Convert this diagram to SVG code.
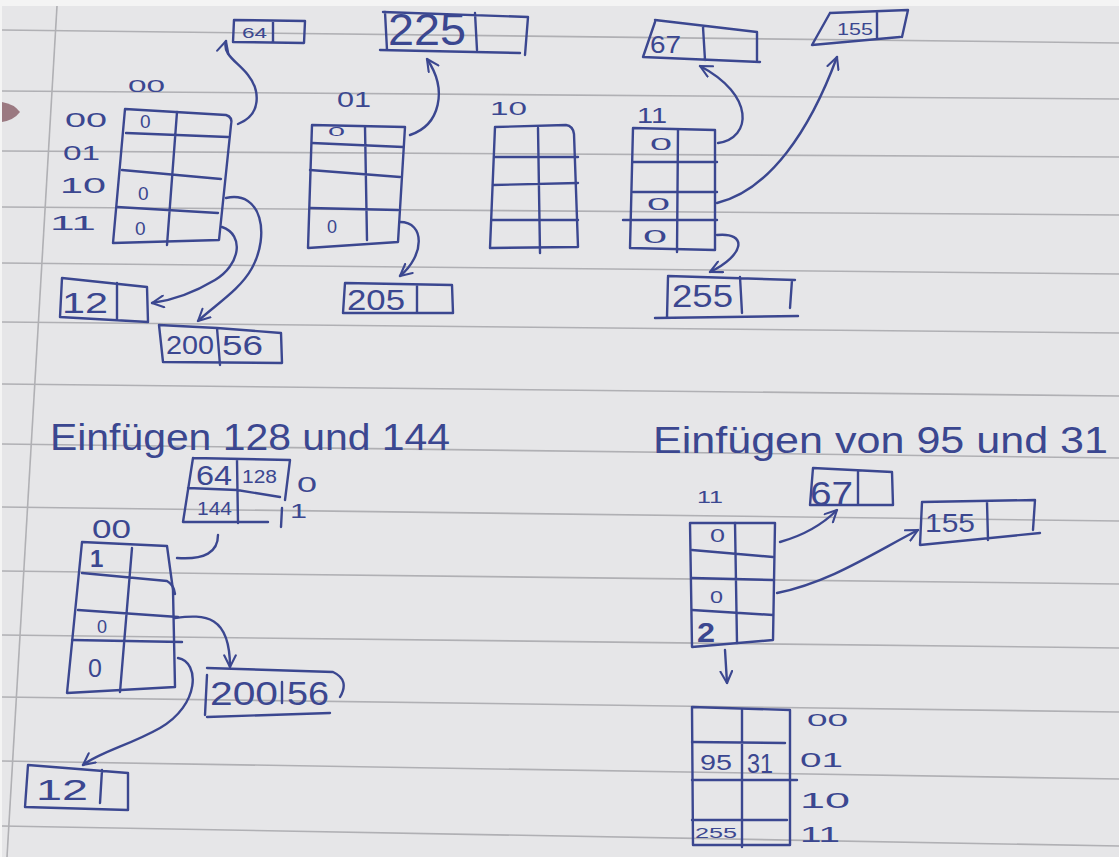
<svg xmlns="http://www.w3.org/2000/svg" width="1119" height="857" viewBox="0 0 1119 857">
<style>
.ink{fill:none;stroke:#3b4790;stroke-width:2.4;stroke-linecap:round;stroke-linejoin:round}
.rule{fill:none;stroke:#b0b0b4;stroke-width:1.6}
.hw{font-family:"Liberation Sans","DejaVu Sans",sans-serif;fill:#3b4790}
.b{font-weight:bold}
</style>
<defs>
<marker id="arr" viewBox="0 0 12 12" refX="11" refY="6" markerWidth="14" markerHeight="14" markerUnits="userSpaceOnUse" orient="auto">
<path d="M1,1 L11,6 L1,11" fill="none" stroke="#3b4790" stroke-width="1.8" stroke-linecap="round" stroke-linejoin="round"/>
</marker>
</defs>
<rect x="0" y="0" width="1119" height="857" fill="#f4f4f4"/>
<g id="paper">
<rect x="2" y="6" width="1117" height="851" fill="#e6e6e8"/>
<path d="M2,102 Q14,104 20,112 Q14,120 2,122 Z" fill="#7a4a55" opacity="0.7"/>
<path class="rule" d="M2,30 L1119,43 M2,91 L1119,99 M2,151 L1119,157 M2,207 L1119,215 M2,263 L1119,274 M2,322 L1119,333 M2,384 L1119,396 M2,444 L1119,458 M2,507 L1119,521 M2,571 L1119,584 M2,635 L1119,648 M2,697 L1119,712 M2,761 L1119,779 M2,826 L1119,846"/>
<path class="rule" d="M57,6 L7,857"/>
</g>

<g id="bucket00">
<text class="hw" x="128" y="92" font-size="17" textLength="37" lengthAdjust="spacingAndGlyphs">00</text>
<text class="hw" x="65" y="127" font-size="20" textLength="42" lengthAdjust="spacingAndGlyphs">00</text>
<text class="hw" x="63" y="160" font-size="20" textLength="37" lengthAdjust="spacingAndGlyphs">01</text>
<text class="hw" x="60" y="193" font-size="22" textLength="46" lengthAdjust="spacingAndGlyphs">10</text>
<text class="hw" x="50" y="230" font-size="20" textLength="46" lengthAdjust="spacingAndGlyphs">11</text>
<path class="ink" d="M125,109 L226,115 Q233,117 231,125 L219,240 L113,243 Z"/>
<path class="ink" d="M177,112 L167,245 M126,133 L228,137 M122,170 L221,179 M117,207 L218,213"/>
<text class="hw" x="140" y="128" font-size="19">0</text>
<text class="hw" x="138" y="200" font-size="19">0</text>
<text class="hw" x="135" y="235" font-size="19">0</text>
</g>

<g id="box64">
<path class="ink" d="M234,20 L305,21 L304,43 L233,42 Z M273,21 L273,42"/>
<text class="hw" x="242" y="38" font-size="15" textLength="25" lengthAdjust="spacingAndGlyphs">64</text>
</g>

<g id="box12top">
<path class="ink" d="M62,278 L147,287 L148,322 L60,317 Z M117,283 L117,320"/>
<text class="hw" x="62" y="313" font-size="30" textLength="46" lengthAdjust="spacingAndGlyphs">12</text>
</g>

<g id="box200_56top">
<path class="ink" d="M159,325 L217,328 L281,333 L282,363 L163,362 Z M217,328 L220,365"/>
<text class="hw" x="166" y="354" font-size="26" textLength="48" lengthAdjust="spacingAndGlyphs">200</text>
<text class="hw" x="222" y="355" font-size="28" textLength="41" lengthAdjust="spacingAndGlyphs">56</text>
</g>

<g id="bucket01">
<text class="hw" x="337" y="107" font-size="22" textLength="34" lengthAdjust="spacingAndGlyphs">01</text>
<path class="ink" d="M312,125 L405,127 L398,242 L308,248 Z"/>
<path class="ink" d="M365,127 L367,240 M312,143 L403,147 M310,170 L400,177 M310,208 L398,210"/>
<text class="hw" x="328" y="136" font-size="13" textLength="17" lengthAdjust="spacingAndGlyphs">0</text>
<text class="hw" x="327" y="233" font-size="18">0</text>
</g>

<g id="box225">
<path class="ink" d="M383,12 L528,17 L525,55 M385,12 L387,50 M380,50 L520,53 M475,13 L477,50"/>
<text class="hw" x="388" y="45" font-size="44" textLength="78" lengthAdjust="spacingAndGlyphs">225</text>
</g>

<g id="box205">
<path class="ink" d="M345,283 L452,285 L453,313 L343,313 Z M417,285 L417,312"/>
<text class="hw" x="347" y="310" font-size="30" textLength="58" lengthAdjust="spacingAndGlyphs">205</text>
</g>

<g id="bucket10">
<text class="hw" x="490" y="115" font-size="18" textLength="37" lengthAdjust="spacingAndGlyphs">10</text>
<path class="ink" d="M495,127 L566,125 Q573,126 574,134 L578,247 L490,248 Z"/>
<path class="ink" d="M538,128 L540,253 M495,157 L578,157 M493,185 L578,183 M492,220 L578,220"/>
</g>

<g id="bucket11">
<text class="hw" x="637" y="123" font-size="22" textLength="30" lengthAdjust="spacingAndGlyphs">11</text>
<path class="ink" d="M633,128 L715,130 L715,250 L630,248 Z"/>
<path class="ink" d="M678,130 L677,252 M633,162 L717,162 M633,192 L717,192 M623,220 L717,220"/>
<text class="hw" x="650" y="150" font-size="17" textLength="22" lengthAdjust="spacingAndGlyphs">0</text>
<text class="hw" x="647" y="210" font-size="17" textLength="23" lengthAdjust="spacingAndGlyphs">0</text>
<text class="hw" x="643" y="243" font-size="19" textLength="24" lengthAdjust="spacingAndGlyphs">0</text>
</g>

<g id="box67top">
<path class="ink" d="M655,20 L757,32 L757,60 M655,22 L643,57 L760,62 M703,27 L705,60"/>
<text class="hw" x="650" y="53" font-size="24" textLength="31" lengthAdjust="spacingAndGlyphs">67</text>
</g>

<g id="box155top">
<path class="ink" d="M830,13 L908,10 L902,37 M830,13 L812,45 L900,37 M877,12 L877,38"/>
<text class="hw" x="837" y="35" font-size="17" textLength="36" lengthAdjust="spacingAndGlyphs">155</text>
</g>

<g id="box255">
<path class="ink" d="M668,277 L667,317 M668,276 L795,280 M655,318 L798,316 M740,277 L742,313 M792,280 L790,308"/>
<text class="hw" x="672" y="307" font-size="32" textLength="61" lengthAdjust="spacingAndGlyphs">255</text>
</g>

<g id="title1">
<text class="hw" x="50" y="450" font-size="36" textLength="400" lengthAdjust="spacingAndGlyphs">Einfügen 128 und 144</text>
</g>

<g id="overflow00">
<path class="ink" d="M193,458 L290,460 L285,500 M193,458 L183,522 L268,522 M282,508 L281,527 M237,460 L238,523 M188,488 L237,490 L280,497"/>
<text class="hw" x="196" y="485" font-size="27" textLength="36" lengthAdjust="spacingAndGlyphs">64</text>
<text class="hw" x="242" y="483" font-size="18" textLength="35" lengthAdjust="spacingAndGlyphs">128</text>
<text class="hw" x="197" y="515" font-size="18" textLength="35" lengthAdjust="spacingAndGlyphs">144</text>
<text class="hw" x="297" y="492" font-size="22" textLength="20" lengthAdjust="spacingAndGlyphs">0</text>
<text class="hw" x="290" y="518" font-size="20" textLength="17" lengthAdjust="spacingAndGlyphs">1</text>
</g>

<g id="bucket00new">
<text class="hw" x="92" y="538" font-size="26" textLength="39" lengthAdjust="spacingAndGlyphs">00</text>
<path class="ink" d="M82,542 L167,546 L173,590 L175,687 L67,693 Z"/>
<path class="ink" d="M132,548 L120,692 M82,573 L167,581 Q174,585 175,594 M78,610 L178,617 M72,640 L182,642"/>
<text class="hw b" x="90" y="567" font-size="24">1</text>
<text class="hw" x="97" y="633" font-size="18">0</text>
<text class="hw" x="88" y="677" font-size="25">0</text>
</g>

<g id="box200_56bottom">
<path class="ink" d="M207,668 L333,672 Q350,680 340,697 M207,675 L205,715 M207,717 L330,713 M282,682 L282,703"/>
<text class="hw" x="210" y="705" font-size="33" textLength="68" lengthAdjust="spacingAndGlyphs">200</text>
<text class="hw" x="287" y="705" font-size="33" textLength="42" lengthAdjust="spacingAndGlyphs">56</text>
</g>

<g id="box12bottom">
<path class="ink" d="M28,765 L128,773 L128,810 L25,807 Z M102,770 L100,803"/>
<text class="hw" x="36" y="800" font-size="30" textLength="52" lengthAdjust="spacingAndGlyphs">12</text>
</g>

<g id="title2">
<text class="hw" x="653" y="453" font-size="36" textLength="455" lengthAdjust="spacingAndGlyphs">Einfügen von 95 und 31</text>
</g>

<g id="bucket11b">
<text class="hw" x="697" y="503" font-size="16" textLength="26" lengthAdjust="spacingAndGlyphs">11</text>
<path class="ink" d="M690,523 L775,523 L773,640 L692,647 Z"/>
<path class="ink" d="M735,523 L737,643 M692,550 L773,557 M692,578 L773,580 M692,610 L773,615"/>
<text class="hw" x="710" y="542" font-size="18" textLength="15" lengthAdjust="spacingAndGlyphs">0</text>
<text class="hw" x="710" y="603" font-size="17" textLength="13" lengthAdjust="spacingAndGlyphs">0</text>
<text class="hw b" x="697" y="642" font-size="28" textLength="18" lengthAdjust="spacingAndGlyphs">2</text>
</g>

<g id="box67b">
<path class="ink" d="M813,468 L892,472 L893,505 L810,505 Z M858,472 L858,505"/>
<text class="hw" x="810" y="505" font-size="34" textLength="43" lengthAdjust="spacingAndGlyphs">67</text>
</g>

<g id="box155b">
<path class="ink" d="M922,502 L1035,500 L1033,530 M922,502 L920,545 L1040,533 M987,502 L988,540"/>
<text class="hw" x="925" y="532" font-size="26" textLength="50" lengthAdjust="spacingAndGlyphs">155</text>
</g>

<g id="bucketsplit">
<path class="ink" d="M692,707 L790,710 L790,845 L693,845 Z"/>
<path class="ink" d="M742,710 L742,847 M692,742 L785,743 M692,780 L797,780 M692,820 L787,820"/>
<text class="hw" x="700" y="770" font-size="22" textLength="32" lengthAdjust="spacingAndGlyphs">95</text>
<text class="hw" x="747" y="773" font-size="28" textLength="26" lengthAdjust="spacingAndGlyphs">31</text>
<text class="hw" x="695" y="838" font-size="15" textLength="42" lengthAdjust="spacingAndGlyphs">255</text>
<text class="hw" x="807" y="726" font-size="17" textLength="41" lengthAdjust="spacingAndGlyphs">00</text>
<text class="hw" x="800" y="767" font-size="20" textLength="43" lengthAdjust="spacingAndGlyphs">01</text>
<text class="hw" x="800" y="808" font-size="22" textLength="50" lengthAdjust="spacingAndGlyphs">10</text>
<text class="hw" x="800" y="842" font-size="22" textLength="40" lengthAdjust="spacingAndGlyphs">11</text>
</g>

<g id="connectors">
<path class="ink" marker-end="url(#arr)" d="M238,124 C262,115 260,90 248,75 C238,62 222,55 226,41"/>
<path class="ink" marker-end="url(#arr)" d="M226,198 C262,190 270,235 252,268 C240,290 215,305 198,321"/>
<path class="ink" marker-end="url(#arr)" d="M222,227 C245,235 240,265 215,280 C195,292 175,300 152,303"/>
<path class="ink" marker-end="url(#arr)" d="M410,135 C440,125 448,90 427,59"/>
<path class="ink" marker-end="url(#arr)" d="M400,222 C425,222 425,255 400,276"/>
<path class="ink" marker-end="url(#arr)" d="M718,143 C752,138 755,95 700,66"/>
<path class="ink" marker-end="url(#arr)" d="M717,203 C770,190 810,130 837,57"/>
<path class="ink" marker-end="url(#arr)" d="M717,235 C748,232 745,255 710,272"/>
<path class="ink" d="M218,535 C218,552 205,560 177,558"/>
<path class="ink" marker-end="url(#arr)" d="M175,618 C205,614 230,615 230,667"/>
<path class="ink" marker-end="url(#arr)" d="M178,658 C200,662 200,705 160,728 C130,745 100,752 83,765"/>
<path class="ink" marker-end="url(#arr)" d="M780,542 C805,535 822,525 837,510"/>
<path class="ink" marker-end="url(#arr)" d="M777,593 C830,582 870,555 918,530"/>
<path class="ink" marker-end="url(#arr)" d="M725,650 L727,683"/>
</g>
</svg>
